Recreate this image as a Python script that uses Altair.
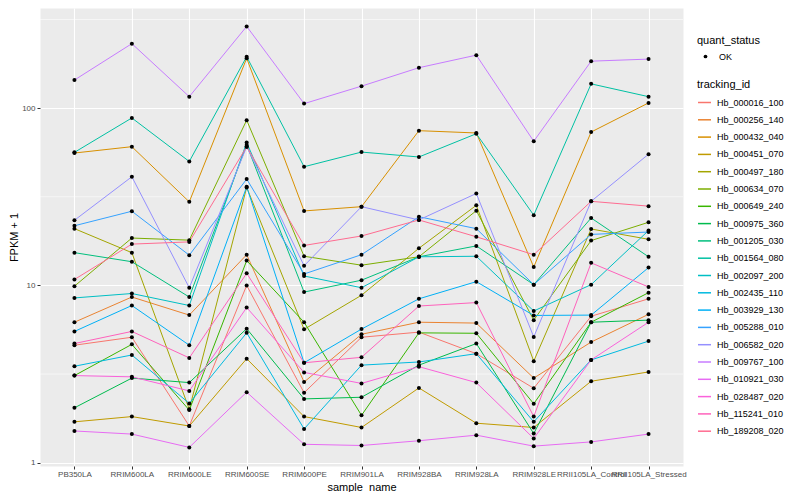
import altair as alt
import pandas as pd

samples = ["PB350LA", "RRIM600LA", "RRIM600LE", "RRIM600SE", "RRIM600PE", "RRIM901LA",
           "RRIM928BA", "RRIM928LA", "RRIM928LE", "RRII105LA_Control", "RRII105LA_Stressed"]

ids = ["Hb_000016_100", "Hb_000256_140", "Hb_000432_040", "Hb_000451_070", "Hb_000497_180",
       "Hb_000634_070", "Hb_000649_240", "Hb_000975_360", "Hb_001205_030", "Hb_001564_080",
       "Hb_002097_200", "Hb_002435_110", "Hb_003929_130", "Hb_005288_010", "Hb_006582_020",
       "Hb_009767_100", "Hb_010921_030", "Hb_028487_020", "Hb_115241_010", "Hb_189208_020"]

colors = ["#F8766D", "#EA8331", "#D89000", "#C09B00", "#A3A500", "#7CAE00", "#39B600", "#00BB4E",
          "#00BF7D", "#00C1A3", "#00BFC4", "#00BAE0", "#00B0F6", "#35A2FF", "#9590FF", "#C77CFF",
          "#E76BF3", "#FA62DB", "#FF62BC", "#FF6C91"]

hb_000016_100 = [4.6, 5.1, 1.61, 10.0, 2.48, 5.1, 5.45, 4.12, 2.63, 6.7, 8.4]
hb_000256_140 = [6.2, 8.6, 6.8, 14.9, 2.85, 5.3, 6.2, 6.13, 3.0, 4.79, 6.87]
hb_000432_040 = [55.8, 60.6, 29.6, 191, 26.3, 27.8, 74.6, 72.4, 12.7, 73.3, 107]
hb_000451_070 = [1.70, 1.82, 1.61, 3.86, 1.82, 1.58, 2.64, 1.67, 1.58, 2.88, 3.25]
hb_000497_180 = [20.9, 15.3, 2.0, 35.7, 5.65, 8.8, 16.2, 28.3, 3.74, 20.8, 18.2]
hb_000634_070 = [9.9, 18.5, 18.0, 85.5, 14.6, 13.0, 14.5, 26.4, 6.37, 17.9, 22.7]
hb_000649_240 = [3.1, 4.65, 1.98, 13.8, 6.2, 1.85, 5.4, 5.37, 2.15, 6.2, 9.1]
hb_000975_360 = [2.04, 3.0, 2.83, 5.7, 2.29, 2.34, 3.55, 4.7, 1.46, 6.2, 6.37]
hb_001205_030 = [15.3, 13.6, 8.6, 62, 9.17, 10.7, 14.5, 16.7, 10.1, 24.0, 14.5]
hb_001564_080 = [56.3, 88, 50, 195, 46.7, 56.5, 53, 71.7, 24.9, 137, 116]
hb_002097_200 = [8.5, 9.0, 7.7, 64, 11.3, 9.7, 14.5, 14.6, 7.17, 10.1, 20.4]
hb_002435_110 = [3.5, 4.05, 2.16, 5.4, 1.55, 3.55, 3.7, 4.12, 1.70, 3.8, 4.85]
hb_003929_130 = [5.5, 7.7, 4.6, 36, 3.66, 5.67, 8.4, 10.5, 6.77, 6.8, 12.6]
hb_005288_010 = [21.7, 26.2, 14.8, 39.8, 11.6, 14.9, 24.4, 20.9, 10.1, 19.4, 20.0]
hb_006582_020 = [23.3, 41, 9.7, 60.6, 12.9, 27.8, 23.4, 33, 5.12, 29.8, 55]
hb_009767_100 = [144, 231, 116, 289, 106, 133, 169, 199, 65, 184, 189]
hb_010921_030 = [1.51, 1.45, 1.22, 2.5, 1.27, 1.25, 1.33, 1.43, 1.24, 1.31, 1.45]
hb_028487_020 = [3.1, 3.05, 2.54, 7.5, 3.23, 2.80, 3.48, 2.83, 1.37, 3.8, 6.2]
hb_115241_010 = [4.7, 5.5, 3.9, 11.7, 3.66, 3.93, 7.65, 8.0, 1.82, 13.4, 9.8]
hb_189208_020 = [10.8, 17.1, 17.6, 60.6, 16.8, 19, 23.4, 18.8, 14.9, 29.8, 28]

series = [hb_000016_100, hb_000256_140, hb_000432_040, hb_000451_070, hb_000497_180,
          hb_000634_070, hb_000649_240, hb_000975_360, hb_001205_030, hb_001564_080,
          hb_002097_200, hb_002435_110, hb_003929_130, hb_005288_010, hb_006582_020,
          hb_009767_100, hb_010921_030, hb_028487_020, hb_115241_010, hb_189208_020]

y_major = [1, 10, 100]
y_minor = [3.162, 31.62, 316.2]

rows = []
for tid, vals in zip(ids, series):
    for s, v in zip(samples, vals):
        rows.append({"sample_name": s, "tracking_id": tid, "fpkm": v, "quant_status": "OK"})
df = pd.DataFrame(rows)

yscale = alt.Scale(type="log", domain=[0.958, 367], nice=False)
xscale = alt.Scale(type="point", domain=samples, padding=0.6)

x_axis = alt.Axis(title="sample_name", labelAngle=0, labelOverlap=False, labelBound=False,
                  labelFontSize=8, labelColor="#4D4D4D", tickColor="#333333", tickSize=3,
                  domain=False, grid=True, gridColor="white", gridWidth=1.1,
                  labelPadding=1, titleFontSize=11, titleFontWeight="normal",
                  titlePadding=3, titleColor="black")
y_axis = alt.Axis(title="FPKM + 1", values=y_major, format="d", labelFontSize=8,
                  labelColor="#4D4D4D", tickColor="#333333", tickSize=3, domain=False,
                  grid=True, gridColor="white", gridWidth=1.1, labelPadding=2,
                  titleFontSize=11, titleFontWeight="normal", titlePadding=2,
                  titleColor="black")

minor = alt.Chart(pd.DataFrame({"fpkm": y_minor})).mark_rule(color="white", strokeWidth=0.55).encode(
    y=alt.Y("fpkm:Q", scale=yscale, axis=y_axis)
)

lines = alt.Chart(df).mark_line(strokeWidth=1).encode(
    x=alt.X("sample_name:N", sort=samples, scale=xscale, axis=x_axis),
    y=alt.Y("fpkm:Q", scale=yscale, axis=y_axis),
    color=alt.Color("tracking_id:N", scale=alt.Scale(domain=ids, range=colors),
                    legend=alt.Legend(title="tracking_id", orient="none", legendX=657, legendY=71,
                                      symbolType="stroke", symbolSize=170, symbolStrokeWidth=1.5,
                                      labelFontSize=9, titleFontSize=11, titleFontWeight="normal",
                                      rowPadding=4.3, titlePadding=5, labelOffset=5)),
)

points = alt.Chart(df).mark_point(filled=True, size=16, opacity=1, color="black").encode(
    x=alt.X("sample_name:N", sort=samples, scale=xscale, axis=x_axis),
    y=alt.Y("fpkm:Q", scale=yscale, axis=y_axis),
    shape=alt.Shape("quant_status:N", scale=alt.Scale(domain=["OK"], range=["circle"]),
                    legend=alt.Legend(title="quant_status", orient="none", legendX=657, legendY=27,
                                      symbolFillColor="black", symbolStrokeColor="black",
                                      symbolSize=14, labelFontSize=9, titleFontSize=11,
                                      titleFontWeight="normal", titlePadding=6, labelOffset=9,
                                      symbolOffset=4)),
)

chart = alt.layer(minor, lines, points).resolve_scale(color="independent", shape="independent").properties(
    width=643, height=458,
    autosize=alt.AutoSizeParams(type="none"),
    padding={"left": 32, "top": 0, "right": 101, "bottom": 26},
).configure(
    font="Liberation Sans",
).configure_view(
    fill="#EBEBEB", stroke="transparent"
).configure_legend(
    labelColor="black", titleColor="black"
)

chart.save("out.html", embed_options={"renderer": "svg", "actions": False})
